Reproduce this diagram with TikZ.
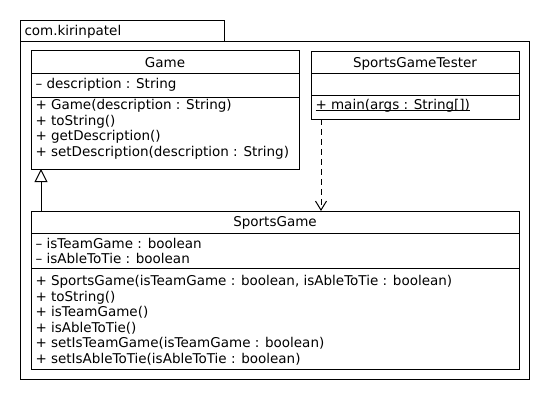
\documentclass[tikz,border=0pt]{standalone}
\usepackage{fontspec}
\setmainfont{DejaVu Sans}
\usetikzlibrary{arrows.meta}
\begin{document}
\begin{tikzpicture}[x=1pt,y=-1pt,line width=1pt,
  box/.style={draw,rectangle,anchor=north west,inner sep=0pt,outer sep=0pt},
  member/.style={anchor=base west,yshift=-4.6pt,inner sep=0pt,font=\fontsize{13.5}{15}\selectfont},
  classname/.style={anchor=base,yshift=-4.6pt,inner sep=0pt,font=\fontsize{13.5}{15}\selectfont},
  sep/.style={line width=1pt},
  generalization/.style={-{Triangle[open,length=13pt,width=13pt]}},
  dependency/.style={dash pattern=on 6pt off 4pt,-{Straight Barb[length=9pt,width=11pt]}}]
\useasboundingbox (0,0) rectangle (550,400);

% package com.kirinpatel
\node[box,minimum width=204pt,minimum height=21pt] (pkgtab) at (20,20) {};
\node[box,minimum width=509pt,minimum height=338pt] (pkg) at (20,41) {};
\node[member] (pkgname) at (24,31) {com.kirinpatel};

% class Game
\node[box,minimum width=268pt,minimum height=119pt] (game) at (31,50) {};
\draw[sep] (31,73) -- (299,73);
\draw[sep] (31,97) -- (299,97);
\node[classname] (gametitle) at (165,63) {Game};
\node[member] (g1) at (35,84) {– description : String};
\node[member] (g2) at (35,105) {+ Game(description : String)};
\node[member] (g3) at (35,120.5) {+ toString()};
\node[member] (g4) at (35,136) {+ getDescription()};
\node[member] (g5) at (35,151.5) {+ setDescription(description : String)};

% class SportsGameTester
\node[box,minimum width=208pt,minimum height=68pt] (tester) at (311,51) {};
\draw[sep] (311,73) -- (519,73);
\draw[sep] (311,95) -- (519,95);
\node[classname] (testertitle) at (415,63) {SportsGameTester};
\node[member] (t1) at (315,104.5) {\underline{\smash{+ main(args : String[])}}};

% class SportsGame
\node[box,minimum width=488pt,minimum height=158pt] (sg) at (31,211) {};
\draw[sep] (31,233) -- (519,233);
\draw[sep] (31,268) -- (519,268);
\node[classname] (sgtitle) at (275,222) {SportsGame};
\node[member] (s1) at (35,243.5) {– isTeamGame : boolean};
\node[member] (s2) at (35,258.5) {– isAbleToTie : boolean};
\node[member] (s3) at (35,281) {+ SportsGame(isTeamGame : boolean, isAbleToTie : boolean)};
\node[member] (s4) at (35,296.5) {+ toString()};
\node[member] (s5) at (35,312) {+ isTeamGame()};
\node[member] (s6) at (35,327.5) {+ isAbleToTie()};
\node[member] (s7) at (35,343) {+ setIsTeamGame(isTeamGame : boolean)};
\node[member] (s8) at (35,358.5) {+ setIsAbleToTie(isAbleToTie : boolean)};

% relations
\draw[generalization] ([xshift=10pt]sg.north west) -- ([xshift=10pt]game.south west);
\draw[dependency] ([xshift=10pt]tester.south west) -- ([xshift=10pt]tester.south west |- sg.north);
\end{tikzpicture}
\end{document}
